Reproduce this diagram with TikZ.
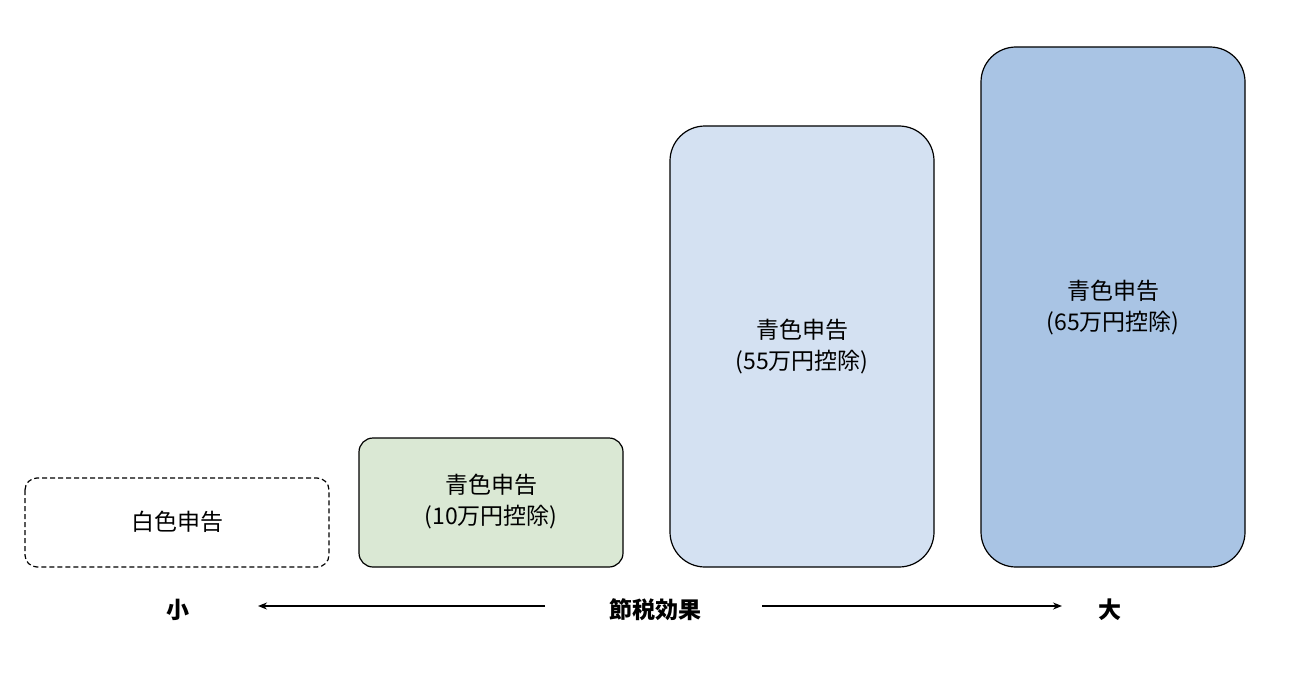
\documentclass[tikz,border=0pt]{standalone}
\usepackage{fontspec}
\setmainfont{Noto Sans CJK JP}
\usetikzlibrary{arrows.meta}
\definecolor{gfill}{HTML}{DAE8D4}
\definecolor{lbfill}{HTML}{D4E1F2}
\definecolor{bfill}{HTML}{A9C4E4}
\begin{document}
\begin{tikzpicture}[x=1pt,y=-1pt,
 box/.style={draw=black,line width=1.2pt,rounded corners=#1},
 lab/.style={font=\fontsize{23}{31}\selectfont,align=center},
 axl/.style={font=\fontsize{23}{28}\selectfont\bfseries},
 arr/.style={-{Stealth[length=9pt,width=7pt]},line width=1.3pt}]
\useasboundingbox[fill=white] (0,0) rectangle (1300,682);
\draw[box=12pt,dashed,dash pattern=on 5pt off 3pt] (25,478) rectangle (329,567);
\node[lab] (w) at (177,522) {白色申告};
\draw[box=14pt,fill=gfill] (359,438) rectangle (623,567);
\node[lab] (g) at (491,502) {青色申告\\(10万円控除)};
\draw[box=35pt,fill=lbfill] (670,126) rectangle (934,567);
\node[lab] (lb) at (802,347) {青色申告\\(55万円控除)};
\draw[box=35pt,fill=bfill] (981,47) rectangle (1245,567);
\node[lab] (b) at (1113,308) {青色申告\\(65万円控除)};
\node[axl] (s) at (178,610) {小};
\node[axl] (m) at (655,610) {節税効果};
\node[axl] (l) at (1110,610) {大};
\coordinate (a1) at (545,606);
\coordinate (a2) at (258,606);
\coordinate (a3) at (762,606);
\coordinate (a4) at (1062,606);
\draw[arr] (a1) -- (a2);
\draw[arr] (a3) -- (a4);
\end{tikzpicture}
\end{document}
